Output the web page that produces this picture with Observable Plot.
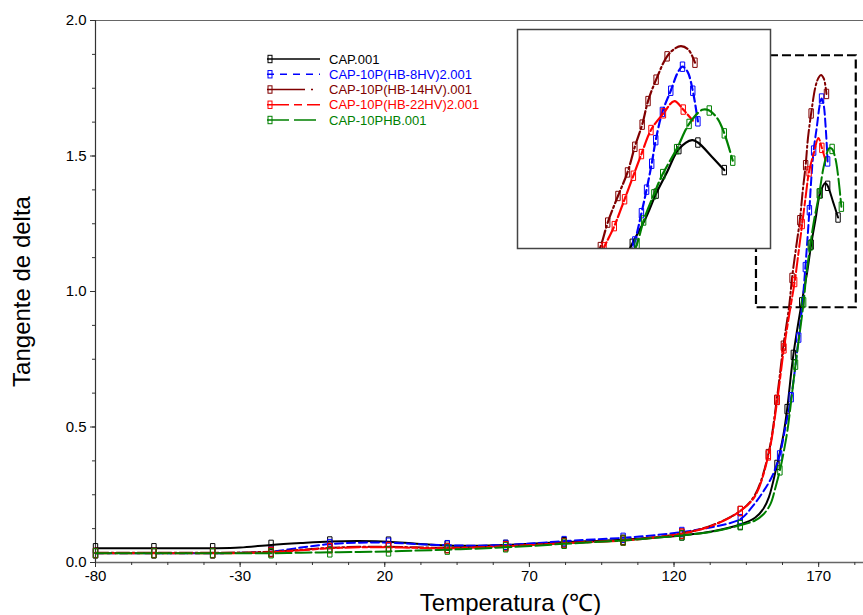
<!DOCTYPE html>
<html><head><meta charset="utf-8">
<script src="https://cdn.jsdelivr.net/npm/d3@7"></script>
<script src="https://cdn.jsdelivr.net/npm/@observablehq/plot@0.6"></script>
<style>
html,body{margin:0;padding:0;background:#fff;}
#wrap{position:relative;width:863px;height:615px;overflow:hidden;font-family:"Liberation Sans",Arial,sans-serif;}
#inset{position:absolute;left:517px;top:29px;}
</style></head><body><div id="wrap"><div id="inset"></div></div>
<script>
// ---------- data ----------
const seriesNames = ["CAP.001","CAP-10P(HB-8HV)2.001","CAP-10P(HB-14HV).001","CAP-10P(HB-22HV)2.001","CAP-10PHB.001"];
const xTitle = "Temperatura (\u2103)";
const yTitle = "Tangente de delta";
const xTicks = [-80,-30,20,70,120,170];
const yTicks = [0,0.5,1.0,1.5,2.0];
const xDomain = [-80,185.5];
const yDomain = [0,2];
const insetX = [148.5,183];
const insetY = [0.94,1.87];

// marker codes: 0 none, 1 main+inset, 2 inset only
const t_cap = [-80,-59.8,-39.5,-30,-19.3,-9,1,11,21.3,31,41.6,51,61.8,72,82,92,102.4,112.5,122.7,133,142.9,148,151,152.8,155.6,157.8,159.1,161.25,164.15,166,167.4,168.9,170.5,172.3,173.1,175,176.7];
const v_cap = [0.0525,0.0525,0.0525,0.055,0.065,0.072,0.0775,0.079,0.077,0.069,0.0625,0.062,0.065,0.07,0.075,0.079,0.084,0.091,0.10,0.114,0.14,0.165,0.2,0.241,0.36,0.47,0.566,0.766,0.96,1.07,1.173,1.265,1.362,1.40,1.39,1.33,1.273];
const m_cap = [1,1,1,0,1,0,1,0,1,0,1,0,1,0,1,0,1,0,1,0,1,0,0,0,1,0,1,1,1,0,1,0,1,0,1,0,1];

const t_8hv = [-80,-59.8,-39.5,-29,-19.3,-9,1,11,21.3,31,41.6,51,61.8,72,82,92,102.4,112.5,122.7,133,142.9,147,151.1,154,156.5,158.5,160.5,163.1,164.5,165.4,166.1,166.8,167.35,168.26,169.4,170.4,171.0,171.7,172.4,173.1];
const v_8hv = [0.034,0.034,0.034,0.036,0.04,0.055,0.068,0.073,0.073,0.068,0.064,0.062,0.065,0.071,0.079,0.085,0.091,0.10,0.1125,0.13,0.16,0.205,0.266,0.32,0.395,0.50,0.61,0.83,0.97,1.09,1.19,1.30,1.40,1.52,1.61,1.69,1.712,1.69,1.61,1.48];
const m_8hv = [1,1,1,0,1,0,1,0,1,0,1,0,1,0,1,0,1,0,1,0,1,0,0,0,1,0,1,1,2,1,2,1,2,1,2,0,1,0,2,1];

const t_14hv = [-80,-59.8,-39.5,-29,-19.3,-9,1,11,21.3,31,41.6,51,61.8,72,82,92,102.4,112.5,122.7,133,142.9,148,152.6,155.5,157.8,159.8,160.8,162.2,163.5,164.5,165.5,166.3,167.4,168.9,170.0,170.8,171.8,172.7];
const v_14hv = [0.036,0.036,0.036,0.037,0.04,0.047,0.054,0.058,0.058,0.056,0.054,0.056,0.06,0.065,0.071,0.076,0.082,0.092,0.107,0.137,0.19,0.25,0.40,0.60,0.80,0.946,1.05,1.163,1.263,1.372,1.466,1.566,1.657,1.756,1.79,1.799,1.785,1.729];
const m_14hv = [1,1,1,0,1,0,1,0,1,0,1,0,1,0,1,0,1,0,1,0,1,0,1,1,1,2,1,2,1,2,1,2,1,2,0,0,0,1];

const t_22hv = [-80,-59.8,-39.5,-29,-19.3,-9,1,11,21.3,31,41.6,51,61.8,72,82,92,102.4,112.5,122.7,133,142.9,148,152.6,155.7,158.0,160.3,161.7,163.1,164.3,165.4,166.7,168.4,169.9,171.1,172.4];
const v_22hv = [0.034,0.034,0.034,0.035,0.0375,0.045,0.0525,0.056,0.056,0.054,0.0525,0.055,0.06,0.065,0.071,0.076,0.081,0.091,0.106,0.135,0.19,0.245,0.395,0.60,0.79,0.945,1.035,1.149,1.249,1.341,1.443,1.514,1.566,1.53,1.483];
const m_22hv = [1,1,1,0,1,0,1,0,1,0,1,0,1,0,1,0,1,0,1,0,1,0,1,1,1,2,1,2,1,2,1,2,0,1,0];

const t_phb = [-80,-59.8,-39.5,-29,-19.3,-9,1,11,21.3,31,41.6,51,61.8,72,82,92,102.4,112.5,122.7,133,142.9,148,151.1,153.4,155.1,156.6,158.0,159.2,162,164.8,165.7,167.1,168.3,170.2,171.9,173.7,174.65,175.8,176.7,177.85];
const v_phb = [0.034,0.034,0.034,0.034,0.034,0.036,0.0375,0.039,0.041,0.044,0.0475,0.051,0.056,0.062,0.069,0.075,0.081,0.09,0.10,0.113,0.1375,0.155,0.18,0.217,0.278,0.34,0.413,0.487,0.73,0.96,1.059,1.17,1.256,1.362,1.469,1.529,1.526,1.49,1.429,1.313];
const m_phb = [1,1,1,0,1,0,1,0,1,0,1,0,1,0,1,0,1,0,1,0,1,0,0,0,0,1,0,0,1,1,2,1,2,1,2,0,1,0,2,1];

// ---------- styles ----------
const colors = ["#000000","#0000ff","#800000","#ff0000","#008000"];
const dashes = [null,"8,4","13,3,2,3","14,3,5,3","16,4"];
const legendDashes = [null,"7,6","38,6,2,40","22,5,8,5","22,5"];

const tArr = [t_cap,t_8hv,t_14hv,t_22hv,t_phb];
const vArr = [v_cap,v_8hv,v_14hv,v_22hv,v_phb];
const mArr = [m_cap,m_8hv,m_14hv,m_22hv,m_phb];
const rows = seriesNames.map((s,i)=>tArr[i].map((t,j)=>({series:s,t,v:vArr[i][j],m:mArr[i][j]})));

const box = {draw(ctx){ctx.moveTo(-2.2,-4.7);ctx.lineTo(2.2,-4.7);ctx.lineTo(2.2,4.7);ctx.lineTo(-2.2,4.7);ctx.closePath();}};

const xMinor = d3.range(xDomain[0], xDomain[1], 12.5);
const yMinor = d3.range(0, 2.0001, 0.125);

const curveMarks = (inset) => rows.flatMap((r,i)=>[
  Plot.line(r,{x:"t",y:"v",stroke:colors[i],strokeWidth:inset?2.2:2,strokeDasharray:dashes[i],curve:"catmull-rom",clip:inset}),
  Plot.dot(r.filter(d=> inset ? d.m>0 : d.m===1),{x:"t",y:"v",symbol:box,stroke:colors[i],fill:"none",strokeWidth:1,clip:inset})
]);

const main = Plot.plot({
  width:863,height:615,
  marginLeft:95,marginRight:0,marginTop:20,marginBottom:53,
  x:{domain:xDomain},
  y:{domain:yDomain},
  style:{fontFamily:'"Liberation Sans",Arial,sans-serif',background:"white",color:"#000",overflow:"visible"},
  marks:[
    Plot.rect([{x1:insetX[0],x2:insetX[1],y1:insetY[0],y2:insetY[1]}],{x1:"x1",x2:"x2",y1:"y1",y2:"y2",fill:"none",stroke:"#000",strokeWidth:2.2,strokeDasharray:"9,4"}),
    Plot.ruleY([yDomain[1]],{stroke:"#666",strokeWidth:1.2}),
    Plot.ruleY([yDomain[0]],{stroke:"#666",strokeWidth:1.5}),
    Plot.ruleX([xDomain[0]],{stroke:"#333",strokeWidth:1.2}),
    Plot.axisX({ticks:xMinor,tickSize:3,tickFormat:()=>"",label:null,stroke:"#333"}),
    Plot.axisX({ticks:xTicks,tickSize:5,tickPadding:3,tickFormat:d=>String(d),label:null,fontSize:15,stroke:"#333"}),
    Plot.axisY({ticks:yMinor,tickSize:3,tickFormat:()=>"",label:null,stroke:"#333"}),
    Plot.axisY({ticks:yTicks,tickSize:5,tickPadding:4,tickFormat:d3.format(".1f"),label:null,fontSize:15,stroke:"#333"}),
    Plot.text([xTitle],{frameAnchor:"bottom",lineAnchor:"middle",textAnchor:"middle",dy:41,dx:31,fontSize:24,fill:"#000"}),
    Plot.text([yTitle],{frameAnchor:"left",lineAnchor:"middle",textAnchor:"middle",dx:-73,rotate:-90,fontSize:24,fill:"#000"}),
    ...curveMarks(false)
  ]
});
document.getElementById("wrap").insertBefore(main, document.getElementById("inset"));

// legend inside plot area
const lg = d3.select(main).append("g").attr("font-family",'"Liberation Sans",Arial,sans-serif').attr("font-size",13).attr("text-anchor","start");
seriesNames.forEach((name,i)=>{
  const y = 59 + i*15.25;
  lg.append("line").attr("x1",267).attr("x2",320).attr("y1",y).attr("y2",y)
    .attr("stroke",colors[i]).attr("stroke-width",1.3).attr("stroke-dasharray",legendDashes[i]);
  lg.append("rect").attr("x",268).attr("y",y-3.7).attr("width",4).attr("height",7.4)
    .attr("fill","none").attr("stroke",colors[i]).attr("stroke-width",1);
  lg.append("text").attr("x",329).attr("y",y).attr("dy","0.36em").attr("text-anchor","start").attr("fill",colors[i]).text(name);
});

const inset = Plot.plot({
  width:253,height:219,margin:0,
  x:{domain:insetX,axis:null},
  y:{domain:insetY,axis:null},
  style:{background:"white",overflow:"visible"},
  marks:[
    ...curveMarks(true),
    Plot.frame({stroke:"#444",strokeWidth:1.5})
  ]
});
document.getElementById("inset").appendChild(inset);
</script>
</body></html>
